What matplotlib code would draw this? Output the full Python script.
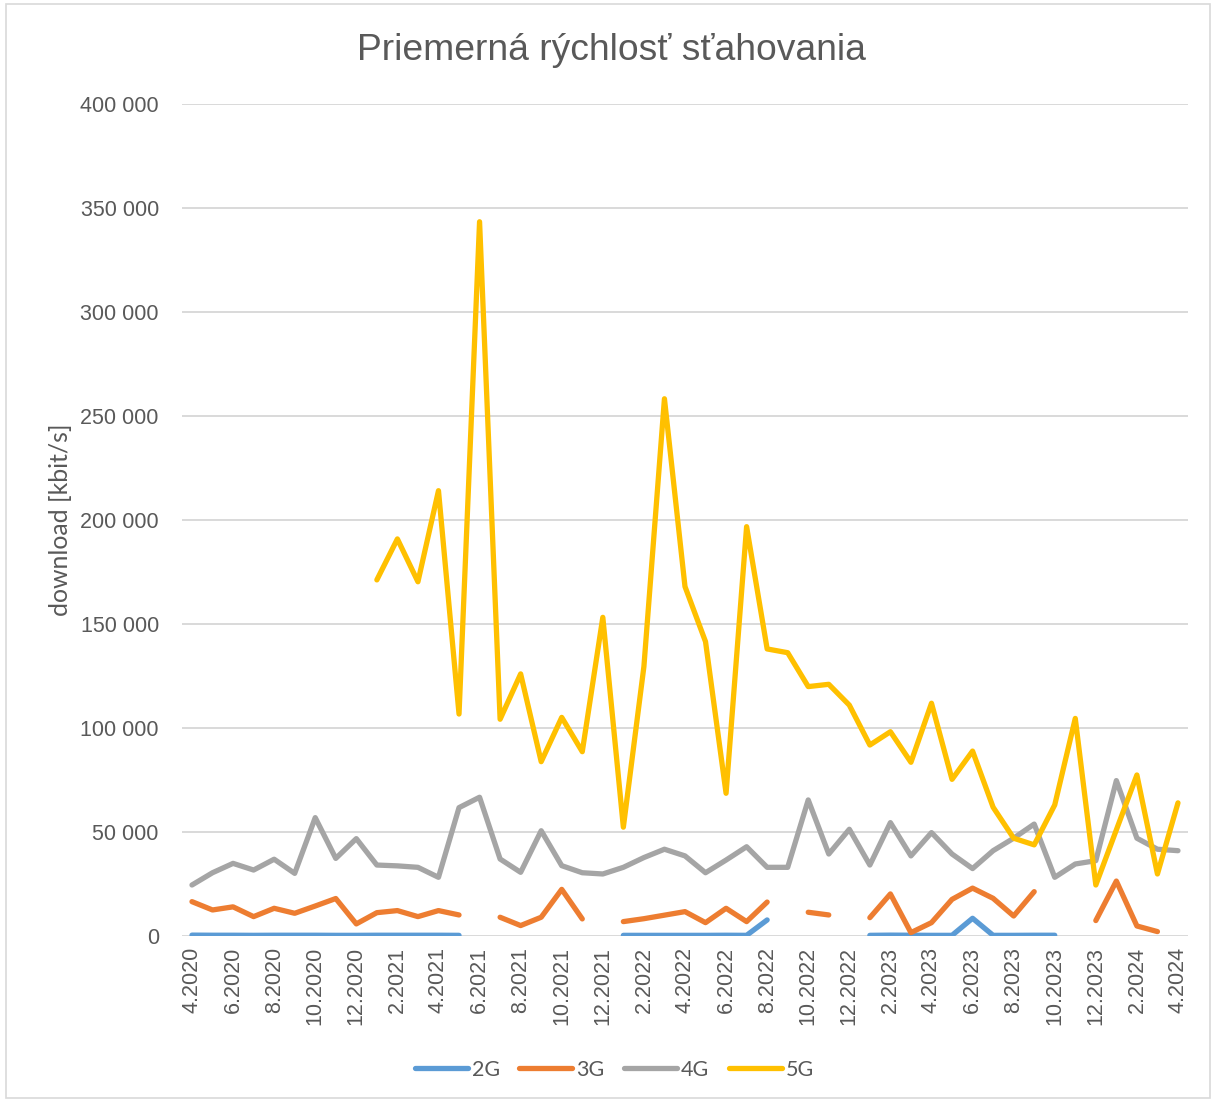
# download_speed.py
import numpy as np
import matplotlib.pyplot as plt
from matplotlib.patches import Rectangle
from matplotlib.ticker import FuncFormatter

nan = np.nan

# -----------------------------
# Data (kbit/s), monthly 4.2020 .. 4.2024
# -----------------------------
months = [f"{(3 + i) % 12 + 1}.{2020 + (3 + i) // 12}" for i in range(49)]

speed_2g = [400, 350, 350, 300, 350, 350, 350, 300, 300, 350, 350, 350, 350, 300,
            nan, nan, nan, nan, nan, nan, nan,
            300, 300, 300, 300, 300, 350, 300, 7700,
            nan, nan, nan, nan,
            300, 400, 350, 300, 300, 8500, 300, 300, 350, 350,
            nan, nan, nan, nan, nan, nan]

speed_3g = [16500, 12500, 14000, 9300, 13300, 10900, 14400, 18000, 5800, 11200,
            12200, 9300, 12200, 10100, nan, 9000, 5000, 9000, 22400, 8200, nan,
            6900, 8300, 10000, 11700, 6400, 13300, 6900, 16300, nan, 11400, 10100,
            nan, 8800, 20200, 1600, 6400, 17600, 23000, 18100, 9600, 21300, nan,
            nan, 7400, 26400, 4800, 2100, nan]

speed_4g = [24500, 30400, 34900, 31700, 36900, 30100, 56900, 37300, 46800, 34100,
            33700, 33000, 28200, 61700, 66700, 37000, 30600, 50600, 33800, 30400,
            29800, 33000, 37700, 41700, 38500, 30400, 36500, 42900, 33000, 33000,
            65400, 39400, 51300, 34100, 54500, 38500, 49700, 39400, 32400, 41000,
            47000, 53800, 28200, 34600, 36200, 74700, 47000, 41700, 41000]

speed_5g = [nan, nan, nan, nan, nan, nan, nan, nan, nan,
            171200, 190900, 170300, 214100, 106700, 343400, 104200, 126000, 83800,
            105100, 88600, 153200, 52300, 129500, 258300, 168000, 141500, 68600,
            196800, 138000, 136200, 119900, 121000, 111000, 91800, 98200, 83500,
            111900, 75300, 88900, 61900, 47000, 43800, 63000, 104600, 24500,
            51000, 77400, 29800, 64000]

series = [("2G", speed_2g, "#5B9BD5"),
          ("3G", speed_3g, "#ED7D31"),
          ("4G", speed_4g, "#A5A5A5"),
          ("5G", speed_5g, "#FFC000")]

# -----------------------------
# Plot
# -----------------------------
text_gray = "#595959"
fig = plt.figure(figsize=(12.13, 11.01), dpi=100)
ax = fig.add_axes([0.1498, 0.1499, 0.8298, 0.7556])

x = np.arange(len(months))
for name, values, color in series:
    ax.plot(x, values, color=color, lw=3.8, label=name,
            solid_capstyle="round", solid_joinstyle="round")

ax.set_xlim(-0.5, len(months) - 0.5)
ax.set_ylim(0, 400000)
ax.set_yticks(np.arange(0, 400001, 50000))
ax.yaxis.set_major_formatter(FuncFormatter(lambda v, p: f"{int(v):,}".replace(",", " ")))
ax.set_xticks(x[::2])
ax.set_xticklabels(months[::2], rotation=90)

ax.grid(axis="y", color="#D9D9D9", lw=1.4)
ax.set_axisbelow(True)
for s in ax.spines.values():
    s.set_visible(False)
ax.tick_params(length=0, labelsize=15.5, labelcolor=text_gray, labelfontfamily="Liberation Sans")
ax.tick_params(axis="y", pad=16.5)
ax.tick_params(axis="x", pad=8)

fig.text(0.5037, 1 - 50 / 1101, "Priemerná rýchlosť sťahovania", ha="center", va="center",
         fontsize=26.8, color=text_gray, family="Liberation Sans")
fig.text(60 / 1213, 1 - 520 / 1101, "download [kbit/s]", rotation=90, ha="center", va="center",
         fontsize=17.9, color=text_gray, family="Lato")

fig.legend(loc="center", bbox_to_anchor=(0.5066, 1 - 1070 / 1101), ncol=4, frameon=False,
           handlelength=2.45, handletextpad=0.2, columnspacing=0.9,
           prop={"family": "Lato", "size": 15.5}, labelcolor=text_gray)

# chart frame
fig.patches.append(Rectangle((6 / 1213, 3 / 1101), 1204 / 1213, 1094 / 1101,
                             transform=fig.transFigure, fill=False, ec="#D9D9D9", lw=1.2))

plt.savefig("out.png", dpi=100)
